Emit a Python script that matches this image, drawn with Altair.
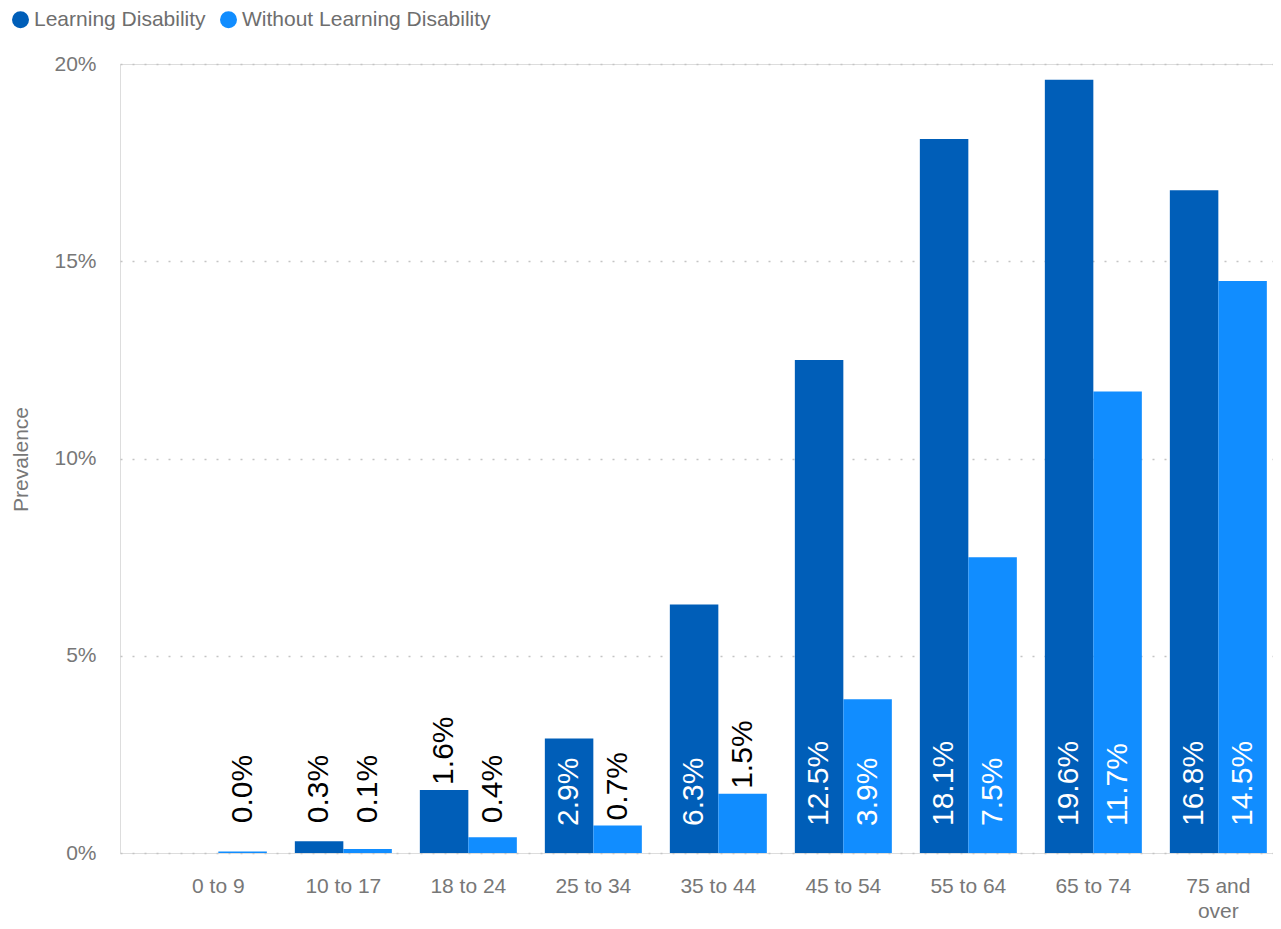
import altair as alt
import pandas as pd

categories = ["0 to 9", "10 to 17", "18 to 24", "25 to 34", "35 to 44",
              "45 to 54", "55 to 64", "65 to 74", "75 and over"]
series_names = ["Learning Disability", "Without Learning Disability"]
ld_values = [None, 0.003, 0.016, 0.029, 0.063, 0.125, 0.181, 0.196, 0.168]
wld_values = [0.0004, 0.001, 0.004, 0.007, 0.015, 0.039, 0.075, 0.117, 0.145]
colors = ["#005EB8", "#118DFF"]

rows = []
for cat, a, b in zip(categories, ld_values, wld_values):
    if a is not None:
        rows.append({"age": cat, "series": series_names[0], "value": a})
    if b is not None:
        rows.append({"age": cat, "series": series_names[1], "value": b})
df = pd.DataFrame(rows)

FONT = "Liberation Sans"
GREY = "#777777"

x_enc = alt.X(
    "age:N", sort=categories, title=None,
    scale=alt.Scale(paddingInner=0.224, paddingOuter=0.224, align=0.89),
    axis=alt.Axis(
        labelAngle=0, domain=False, ticks=False, grid=False,
        labelFont=FONT, labelFontSize=21, labelColor=GREY, labelPadding=22,
        labelLineHeight=25, labelBaseline="top",
        labelExpr="datum.label == '75 and over' ? ['75 and', 'over'] : datum.label",
    ),
)
xoff = alt.XOffset("series:N", sort=series_names,
                   scale=alt.Scale(paddingInner=0, paddingOuter=0))

y_axis = alt.Axis(
    values=[0, 0.05, 0.1, 0.15, 0.2], format=".0%", domain=False, ticks=False,
    labelFont=FONT, labelFontSize=21, labelColor=GREY, labelPadding=24,
    grid=True, gridDash=[2, 10], gridColor="#C4C4C4", gridWidth=1.6,
    title="Prevalence", titleFont=FONT, titleFontSize=21, titleColor=GREY,
    titleFontWeight="normal", titleX=-99, titleY=395, titleAngle=270,
    titleAlign="center", titleBaseline="middle",
)
y_scale = alt.Scale(domain=[0, 0.2], nice=False)

base = alt.Chart(df)

bars = base.mark_bar().encode(
    x=x_enc,
    xOffset=xoff,
    y=alt.Y("value:Q", scale=y_scale, axis=y_axis),
    color=alt.Color(
        "series:N", sort=series_names,
        scale=alt.Scale(domain=series_names, range=colors),
        legend=alt.Legend(
            title=None, orient="none", legendX=-110, legendY=-55,
            direction="horizontal", symbolType="circle", symbolSize=289,
            symbolStrokeWidth=0, labelFont=FONT, labelFontSize=21,
            labelColor="#6E6E6E", labelOffset=3, columnPadding=12,
            labelLimit=500,
        ),
    ),
)

inside = base.transform_filter("datum.value >= 0.02").transform_calculate(
    ly="0"
).mark_text(
    angle=270, align="left", baseline="middle", fontSize=30, font=FONT,
    color="white", dx=27,
).encode(
    x=x_enc, xOffset=xoff,
    y=alt.Y("ly:Q", scale=y_scale, axis=y_axis),
    text=alt.Text("value:Q", format=".1%"),
)

outside = base.transform_filter("datum.value < 0.02").transform_calculate(
    ly="max(datum.value, 0.0063)"
).mark_text(
    angle=270, align="left", baseline="middle", fontSize=30, font=FONT,
    color="black", dx=5,
).encode(
    x=x_enc, xOffset=xoff,
    y=alt.Y("ly:Q", scale=y_scale, axis=y_axis),
    text=alt.Text("value:Q", format=".1%"),
)

chart = alt.layer(bars, inside, outside).properties(
    width=1153, height=789,
    autosize=alt.AutoSizeParams(type="none"),
    padding={"left": 112, "top": 56, "right": 0, "bottom": 70},
).configure_view(stroke=None).configure(background="white")

chart.save("out.html", embed_options={"renderer": "svg", "actions": False})
